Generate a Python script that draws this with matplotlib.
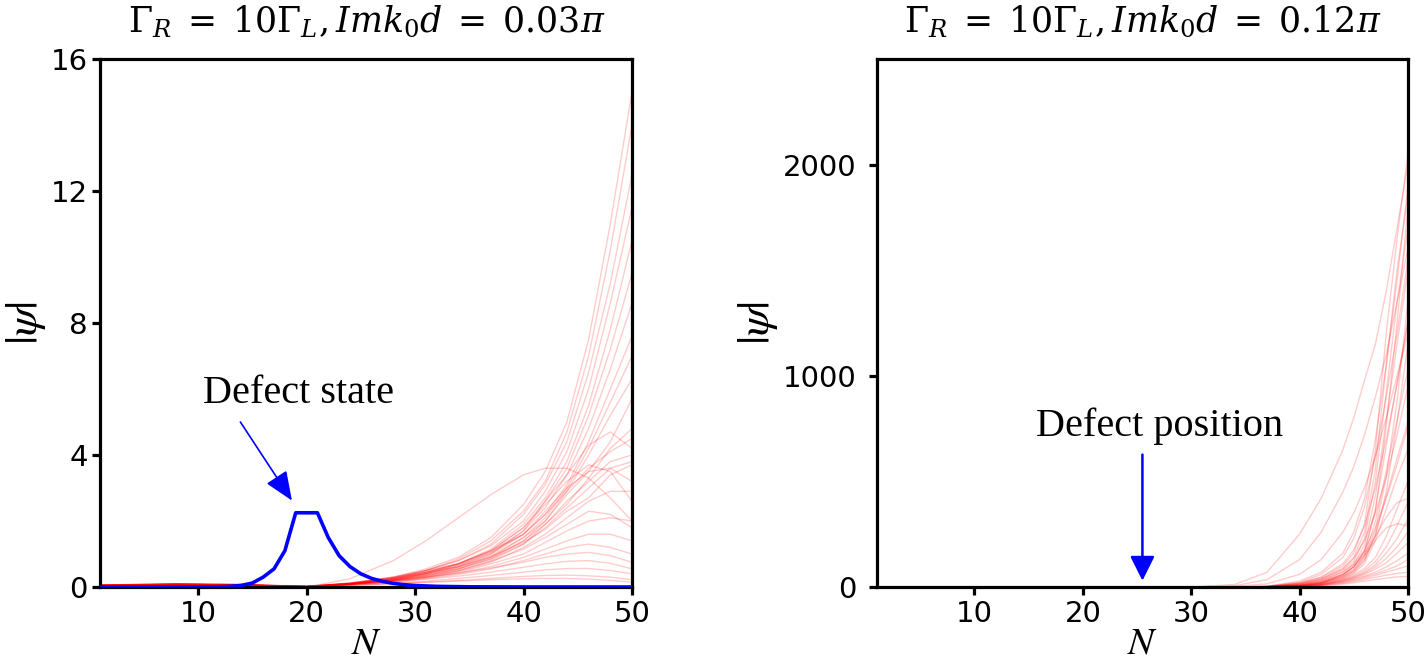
import matplotlib
matplotlib.use("Agg")
import matplotlib.pyplot as plt

# ---- data ----
# left panel: Gamma_R = 10 Gamma_L, Im k0 d = 0.03 pi
left_n = [1, 8, 14, 20, 24, 28, 31, 34, 37, 40, 42, 44, 46, 48, 50]

left_steep = [
    [0.05, 0.08, 0.06, 0.01, 0.10, 0.30, 0.55, 0.90, 1.50, 2.50, 3.50, 5.00, 7.50, 11.0, 15.0],
    [0.04, 0.07, 0.05, 0.01, 0.08, 0.25, 0.50, 0.85, 1.40, 2.30, 3.20, 4.70, 7.00, 10.2, 14.0],
    [0.06, 0.09, 0.07, 0.02, 0.10, 0.28, 0.50, 0.80, 1.30, 2.20, 3.10, 4.40, 6.50, 9.20, 12.5],
    [0.05, 0.10, 0.08, 0.01, 0.12, 0.30, 0.50, 0.80, 1.25, 2.00, 2.90, 4.10, 6.00, 8.60, 11.5],
    [0.03, 0.06, 0.05, 0.01, 0.09, 0.22, 0.42, 0.70, 1.15, 1.90, 2.70, 3.80, 5.50, 7.80, 10.5],
    [0.05, 0.08, 0.06, 0.02, 0.10, 0.25, 0.45, 0.72, 1.10, 1.80, 2.60, 3.60, 5.20, 7.20, 9.50],
    [0.04, 0.07, 0.06, 0.01, 0.08, 0.20, 0.40, 0.65, 1.00, 1.70, 2.40, 3.40, 4.80, 6.60, 8.60],
    [0.06, 0.10, 0.07, 0.02, 0.11, 0.26, 0.45, 0.70, 1.05, 1.60, 2.20, 3.10, 4.40, 6.00, 7.60],
    [0.05, 0.08, 0.06, 0.01, 0.10, 0.22, 0.38, 0.60, 0.90, 1.50, 2.10, 3.00, 4.20, 5.60, 7.00],
    [0.04, 0.06, 0.05, 0.01, 0.09, 0.20, 0.35, 0.55, 0.85, 1.40, 2.00, 2.90, 4.00, 5.20, 6.30],
]
left_medium = [
    [0.05, 0.08, 0.06, 0.02, 0.10, 0.25, 0.40, 0.60, 0.95, 1.50, 2.00, 2.80, 3.50, 4.40, 5.70],
    [0.04, 0.07, 0.05, 0.01, 0.08, 0.20, 0.35, 0.55, 0.85, 1.30, 1.90, 2.50, 3.30, 4.20, 4.80],
    [0.06, 0.09, 0.07, 0.02, 0.12, 0.30, 0.50, 0.70, 1.10, 1.60, 2.20, 2.90, 3.60, 4.10, 4.50],
    [0.05, 0.08, 0.06, 0.01, 0.10, 0.22, 0.36, 0.55, 0.90, 1.40, 1.90, 2.60, 3.20, 3.80, 4.00],
    [0.04, 0.06, 0.05, 0.01, 0.09, 0.20, 0.32, 0.50, 0.80, 1.30, 1.80, 2.40, 3.00, 3.60, 3.80],
    [0.05, 0.09, 0.07, 0.02, 0.10, 0.24, 0.40, 0.62, 1.00, 1.60, 2.30, 3.00, 3.50, 3.60, 3.20],
    [0.06, 0.10, 0.08, 0.02, 0.12, 0.28, 0.45, 0.70, 1.10, 1.80, 2.50, 3.20, 3.70, 3.50, 2.60],
    [0.04, 0.07, 0.06, 0.01, 0.08, 0.18, 0.30, 0.48, 0.75, 1.20, 1.60, 2.10, 2.60, 2.90, 2.90],
    [0.05, 0.08, 0.06, 0.01, 0.09, 0.20, 0.32, 0.50, 0.78, 1.15, 1.50, 1.90, 2.30, 2.20, 1.80],
    [0.03, 0.06, 0.05, 0.01, 0.07, 0.16, 0.28, 0.45, 0.70, 1.00, 1.35, 1.70, 2.00, 2.10, 2.00],
    [0.05, 0.07, 0.06, 0.01, 0.09, 0.24, 0.42, 0.66, 1.05, 1.70, 2.60, 3.40, 4.30, 4.70, 4.20],
    [0.04, 0.08, 0.06, 0.02, 0.11, 0.27, 0.44, 0.62, 0.92, 1.35, 1.75, 2.30, 2.70, 3.40, 3.70],
]
left_low = [
    [0.05, 0.08, 0.06, 0.01, 0.08, 0.18, 0.28, 0.42, 0.62, 0.90, 1.15, 1.40, 1.60, 1.60, 1.40],
    [0.04, 0.07, 0.05, 0.01, 0.07, 0.15, 0.25, 0.38, 0.55, 0.80, 1.00, 1.20, 1.30, 1.20, 1.00],
    [0.06, 0.09, 0.07, 0.02, 0.10, 0.20, 0.30, 0.42, 0.58, 0.75, 0.90, 1.00, 1.05, 0.95, 0.75],
    [0.05, 0.08, 0.06, 0.01, 0.08, 0.16, 0.24, 0.33, 0.45, 0.60, 0.70, 0.78, 0.80, 0.72, 0.55],
    [0.04, 0.07, 0.05, 0.01, 0.06, 0.12, 0.18, 0.26, 0.35, 0.45, 0.52, 0.56, 0.56, 0.50, 0.40],
    [0.03, 0.06, 0.05, 0.01, 0.05, 0.10, 0.15, 0.20, 0.26, 0.32, 0.35, 0.36, 0.34, 0.30, 0.22],
    [0.05, 0.08, 0.06, 0.01, 0.06, 0.10, 0.14, 0.18, 0.22, 0.25, 0.26, 0.26, 0.24, 0.20, 0.15],
]
left_hump = [0.0, 0.0, 0.0, 0.0, 0.25, 0.80, 1.40, 2.10, 2.80, 3.40, 3.60, 3.60, 3.30, 2.70, 2.00]

# defect state (blue)
defect_n = [1, 10, 12, 13, 14, 15, 16, 17, 18, 19, 20, 21, 22, 23, 24, 25, 26, 27, 28, 29, 30, 32, 35, 40, 50]
defect_psi = [0.0, 0.002, 0.008, 0.02, 0.05, 0.12, 0.30, 0.55, 1.10, 2.25, 2.25, 2.25, 1.50, 0.95,
              0.62, 0.40, 0.26, 0.17, 0.11, 0.07, 0.045, 0.02, 0.006, 0.001, 0.0]

# right panel: Gamma_R = 10 Gamma_L, Im k0 d = 0.12 pi
right_n = [1, 30, 34, 37, 40, 42, 44, 45, 46, 47, 48, 49, 50]

right_early = [
    [0, 0, 12, 70, 250, 420, 650, 800, 980, 1150, 1400, 1700, 2000],
    [0, 0, 6, 35, 130, 260, 450, 570, 720, 900, 1100, 1350, 1600],
    [0, 0, 3, 15, 60, 130, 260, 350, 470, 620, 800, 1000, 1200],
]
right_bundle = [
    [0, 0, 0, 3, 20, 45, 100, 160, 300, 650, 1200, 1650, 2050],
    [0, 0, 0, 4, 28, 70, 160, 260, 420, 700, 1050, 1450, 1900],
    [0, 0, 0, 2, 16, 40, 90, 140, 260, 560, 1050, 1500, 1850],
    [0, 0, 0, 3, 22, 60, 140, 230, 380, 620, 900, 1200, 1550],
    [0, 0, 0, 2, 14, 35, 80, 122, 230, 500, 920, 1350, 1700],
    [0, 0, 0, 1, 10, 26, 60, 95, 170, 360, 760, 1250, 1800],
    [0, 0, 0, 1, 11, 30, 70, 108, 200, 430, 790, 1150, 1500],
    [0, 0, 0, 2, 18, 48, 110, 175, 290, 470, 700, 960, 1250],
    [0, 0, 0, 1, 9, 26, 60, 94, 170, 370, 670, 970, 1260],
    [0, 0, 0, 1, 8, 22, 50, 80, 140, 270, 520, 880, 1350],
    [0, 0, 0, 1, 8, 22, 52, 82, 150, 310, 550, 790, 1030],
    [0, 0, 0, 2, 14, 38, 85, 135, 220, 350, 520, 720, 950],
    [0, 0, 0, 1, 6, 18, 44, 70, 125, 250, 430, 610, 780],
    [0, 0, 0, 1, 6, 16, 40, 64, 112, 220, 370, 520, 650],
    [0, 0, 0, 1, 7, 20, 46, 75, 130, 240, 450, 780, 1150],
    [0, 0, 0, 2, 12, 32, 72, 110, 175, 280, 420, 580, 760],
]
right_low = [
    [0, 0, 0, 1, 5, 15, 38, 58, 88, 140, 240, 370, 500],
    [0, 0, 0, 1, 5, 14, 35, 52, 78, 120, 190, 290, 400],
    [0, 0, 0, 1, 4, 12, 32, 48, 70, 105, 160, 230, 320],
    [0, 0, 0, 1, 4, 12, 30, 45, 65, 95, 135, 190, 260],
    [0, 0, 0, 1, 4, 11, 28, 42, 60, 85, 115, 160, 210],
    [0, 0, 0, 1, 3, 10, 26, 38, 52, 70, 95, 125, 160],
    [0, 0, 0, 1, 3, 9, 24, 35, 48, 62, 80, 100, 130],
    [0, 0, 0, 0, 2, 8, 20, 30, 42, 55, 70, 85, 100],
    [0, 0, 0, 0, 2, 7, 18, 26, 36, 46, 56, 64, 70],
    [0, 0, 0, 0, 1, 5, 14, 20, 28, 35, 42, 48, 50],
    [0, 0, 0, 1, 6, 20, 60, 100, 160, 240, 330, 400, 420],
    [0, 0, 0, 1, 5, 18, 55, 95, 150, 220, 280, 300, 290],
]

left_title = r'$\Gamma_R\;=\;10\Gamma_L,Imk_0d\;=\;0.03\pi$'
right_title = r'$\Gamma_R\;=\;10\Gamma_L,Imk_0d\;=\;0.12\pi$'

plt.rcParams['mathtext.fontset'] = 'stix'
plt.rcParams['font.family'] = ['DejaVu Sans']

RED = (1.0, 0.0, 0.0, 0.2)
SERIF = 'Liberation Serif'


def style_axes(ax, title, ylim, yticks, ypad):
    ax.set_xlim(1, 50)
    ax.set_ylim(*ylim)
    ax.set_xticks([10, 20, 30, 40, 50])
    ax.set_yticks(yticks)
    for sp in ax.spines.values():
        sp.set_linewidth(2.3)
    ax.tick_params(width=2.3, length=6, labelsize=21, pad=3)
    ax.tick_params(axis='y', pad=ypad)
    ax.set_title(title, fontsize=25, pad=19, math_fontfamily='dejavuserif')
    ax.set_xlabel(r'$N$', fontsize=28, labelpad=-3)
    ax.set_ylabel(r'$|\psi|$', fontsize=33, labelpad=2)


def blue_arrow(ax, tail, tip, lw, head_length):
    ax.annotate('', xy=tip, xytext=tail,
                arrowprops=dict(arrowstyle=f'-|>,head_length={head_length},head_width=0.75',
                                mutation_scale=10, color='blue', lw=lw,
                                shrinkA=0, shrinkB=0), zorder=6)


fig = plt.figure(figsize=(14.25, 6.63), dpi=100)
ax1 = fig.add_axes([0.0705, 0.1146, 0.373, 0.7964])
ax2 = fig.add_axes([0.6154, 0.1146, 0.3726, 0.7964])

# left panel
for curve in left_steep + left_medium + left_low + [left_hump]:
    ax1.plot(left_n, curve, color=RED, lw=1.0)
ax1.plot(defect_n, defect_psi, color='blue', lw=2.6, zorder=5)
ax1.text(19.3, 5.58, 'Defect state', ha='center', va='baseline', fontsize=29, family=SERIF)
blue_arrow(ax1, (13.9, 5.0), (18.65, 2.62), 1.2, 1.8)
style_axes(ax1, left_title, (0, 16), [0, 4, 8, 12, 16], 3)

# right panel
for curve in right_early + right_bundle + right_low:
    ax2.plot(right_n, curve, color=RED, lw=1.0)
ax2.text(27.1, 715, 'Defect position', ha='center', va='baseline', fontsize=29, family=SERIF)
blue_arrow(ax2, (25.5, 627), (25.5, 30), 1.8, 1.5)
style_axes(ax2, right_title, (0, 2500), [0, 1000, 2000], 9)

fig.savefig('out.png', dpi=100)
